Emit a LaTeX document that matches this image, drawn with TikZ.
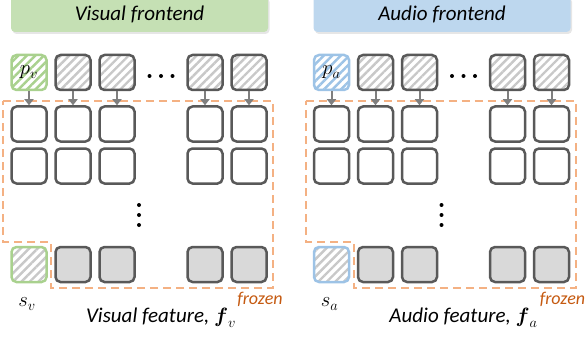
\documentclass[tikz,border=0pt]{standalone}
\usepackage{amsmath}
\usepackage{fontspec}
\setmainfont{Carlito}
\usetikzlibrary{arrows.meta,patterns.meta,shadows}

\definecolor{boxgray}{HTML}{595959}
\definecolor{arrgray}{HTML}{7F7F7F}
\definecolor{hatchgray}{HTML}{C8C8C8}
\definecolor{featgray}{HTML}{D9D9D9}
\definecolor{vgreen}{HTML}{A9D18E}
\definecolor{vgreenfill}{HTML}{C5E0B4}
\definecolor{ablue}{HTML}{9DC3E6}
\definecolor{abluefill}{HTML}{BDD7EE}
\definecolor{frozenline}{HTML}{F4B183}
\definecolor{frozentext}{HTML}{C55A11}

\tikzset{
  tok/.style={draw=boxgray, line width=2.5pt, rounded corners=5pt, minimum size=35pt, inner sep=0pt},
  hatched/.style={pattern={Lines[angle=45,distance=6pt,line width=2.4pt]}, pattern color=#1},
  frontend/.style={rounded corners=4pt, minimum width=257pt, minimum height=36pt, inner sep=0pt,
    drop shadow={shadow xshift=1.5pt, shadow yshift=-2pt, opacity=0.2}},
  frozen/.style={draw=frozenline, line width=2pt, dash pattern=on 8pt off 5pt},
  tokarrow/.style={->, draw=arrgray, line width=2pt}
}

\begin{document}
\begin{tikzpicture}[x=1pt, y=-1pt, >={Triangle[width=9pt,length=6pt]}, font=\fontsize{21}{25}\selectfont]
    \clip (0,0) rectangle (587,337);
    \useasboundingbox (0,0) rectangle (587,337);
    \foreach \pn/\dx/\col/\colfill/\mod in {v/0/vgreen/vgreenfill/Visual, a/302.5/ablue/abluefill/Audio}{
    \begin{scope}[xshift=\dx]
        % frontend header
        \node[frontend, fill=\colfill] (\pn-head) at (139.5,14) {\itshape \mod\ frontend};
        % frozen part
        \draw[frozen] (3,101) -- (273,101) -- (273,288) -- (51,288) -- (51,242) -- (3,242) -- cycle;
        % prompt token and s token
        \node[tok, draw=\col, hatched=\col] (\pn-top-1) at (29,72.5) {$p_\pn$};
        \node[tok, draw=\col, hatched=hatchgray] (\pn-feat-1) at (29,264.5) {};
        \foreach \k/\c in {2/1,3/2,4/4,5/5}{
            \node[tok, hatched=hatchgray] (\pn-top-\k) at (29+44*\c,72.5) {};
            \node[tok, fill=featgray] (\pn-feat-\k) at (29+44*\c,264.5) {};
        }
        \foreach \k/\c in {1/0,2/1,3/2,4/4,5/5}{
            \node[tok] (\pn-r1-\k) at (29+44*\c,124) {};
            \node[tok] (\pn-r2-\k) at (29+44*\c,166) {};
            \draw[tokarrow] (\pn-top-\k) -- (\pn-r1-\k);
        }
        % dots
        \foreach \x in {149.5,161,172.5} \fill (\x,76) circle (2pt);
        \foreach \y in {205,215,225} \fill (139,\y) circle (2pt);
        % labels
        \node (\pn-s) at (27,304) {$s_\pn$};
        \node[text=frozentext, font=\fontsize{18}{21}\selectfont\itshape] (\pn-frozen) at (260,299) {frozen};
        \node (\pn-label) at (161,318) {\itshape \mod\ feature, $\boldsymbol{f}_\pn$};
    \end{scope}
    }
\end{tikzpicture}
\end{document}
